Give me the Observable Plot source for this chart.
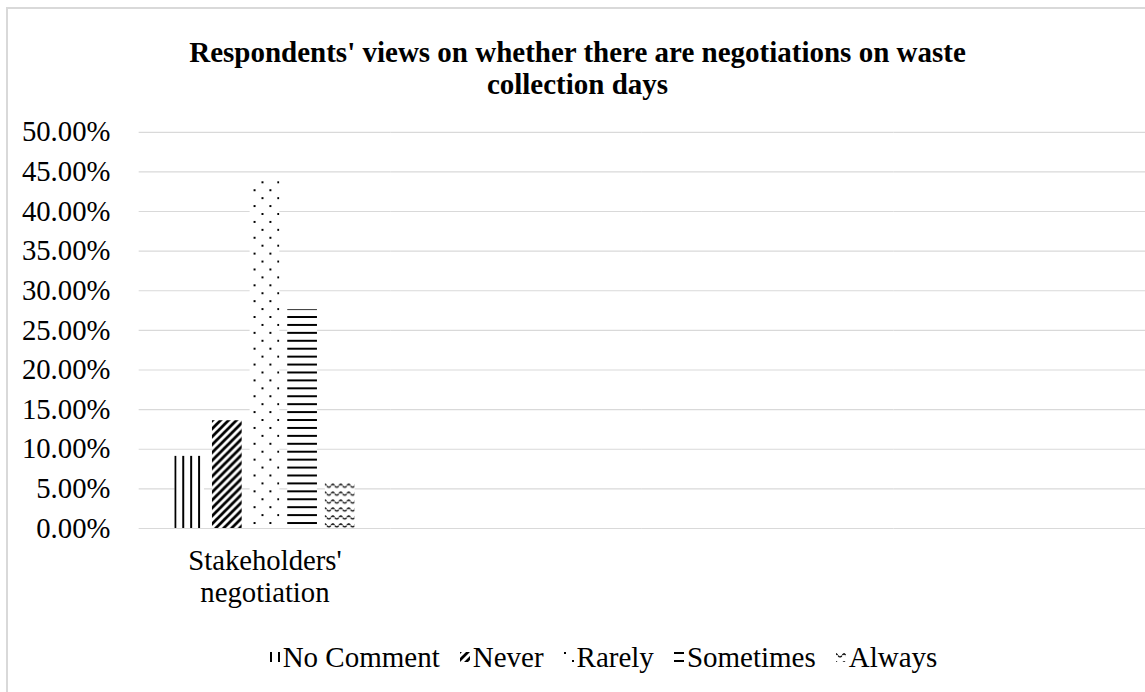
<!DOCTYPE html>
<html>
<head>
<meta charset="utf-8">
<script src="https://cdn.jsdelivr.net/npm/d3@7"></script>
<script src="https://cdn.jsdelivr.net/npm/@observablehq/plot@0.6"></script>
<style>
html, body { margin: 0; padding: 0; background: #fff; width: 1145px; height: 692px; overflow: hidden;
  font-family: "Liberation Serif", "DejaVu Serif", serif; color: #000; }
#frame { position: absolute; left: 6px; top: 7px; width: 1170px; height: 720px; border: 2px solid #d9d9d9; box-sizing: border-box; }
#title { position: absolute; left: 0; top: 36px; width: 1155px; text-align: center; font-weight: bold; font-size: 29px; line-height: 32px;
  font-family: "Liberation Serif", "DejaVu Serif", serif; }
#chart { position: absolute; left: 0; top: 110px; }
#chart svg, #chart svg text { font-family: "Liberation Serif", "DejaVu Serif", serif !important; }
#legend { position: absolute; left: 0; top: 641px; width: 1207px; display: flex; justify-content: center; gap: 20px;
  font-size: 29px; line-height: 32px; white-space: nowrap; font-family: "Liberation Serif", "DejaVu Serif", serif; }
.item { display: flex; align-items: center; }
.item svg { margin-right: 3px; }
</style>
</head>
<body>
<svg width="0" height="0" style="position:absolute">
  <defs>
    <pattern id="p-vert" patternUnits="userSpaceOnUse" width="8" height="8">
      <rect width="8" height="8" fill="#fff"/><rect x="0" y="0" width="2" height="8" fill="#000"/>
    </pattern>
    <pattern id="p-diag" patternUnits="userSpaceOnUse" width="8" height="8">
      <rect width="8" height="8" fill="#fff"/>
      <path d="M-2,10 L10,-2 M-6,6 L6,-6 M2,14 L14,2" stroke="#000" stroke-width="2.8"/>
    </pattern>
    <pattern id="p-dots" patternUnits="userSpaceOnUse" width="16" height="16">
      <rect width="16" height="16" fill="#fff"/><rect x="0" y="0" width="2" height="2" fill="#000"/><rect x="8" y="8" width="2" height="2" fill="#000"/>
    </pattern>
    <pattern id="p-horiz" patternUnits="userSpaceOnUse" width="8" height="8">
      <rect width="8" height="8" fill="#fff"/><rect x="0" y="0" width="8" height="2" fill="#000"/>
    </pattern>
    <pattern id="p-wave" patternUnits="userSpaceOnUse" width="8" height="8">
      <rect width="8" height="8" fill="#fff"/>
      <path d="M0,1.5 L4,5.5 L8,1.5" stroke="#000" stroke-width="1.3" fill="none" stroke-dasharray="2.2,0.8"/>
    </pattern>
  </defs>
</svg>
<div id="frame"></div>
<div id="title">Respondents' views on whether there are negotiations on waste<br>collection days</div>
<div id="chart"></div>
<div id="legend"></div>
<script>
// ---- data ----
const categories = ["Stakeholders' negotiation", "cat2", "cat3", "cat4"];
const categoryLabels = ["Stakeholders'\nnegotiation", "", "", ""];
const series = ["No Comment", "Never", "Rarely", "Sometimes", "Always"];
const values = [0.091, 0.136, 0.440, 0.276, 0.057];
const yTicks = [0, 0.05, 0.10, 0.15, 0.20, 0.25, 0.30, 0.35, 0.40, 0.45, 0.50];

// ---- styles ----
const fills = ["url(#p-vert)", "url(#p-diag)", "url(#p-dots)", "url(#p-horiz)", "url(#p-wave)"];

const rows = series.map((s, i) => ({category: categories[0], series: s, value: values[i]}));
const gridRows = categories.flatMap(c => yTicks.map(t => ({category: c, tick: t})));

const plot = Plot.plot({
  width: 1156,
  height: 512,
  marginTop: 22,
  marginBottom: 90,
  marginLeft: 140,
  marginRight: 0,
  style: {fontFamily: "'Liberation Serif', 'DejaVu Serif', serif", fontSize: "29px", color: "#000", background: "transparent", overflow: "visible"},
  fx: {domain: categories, padding: 0},
  x: {domain: series, paddingInner: 0.2, paddingOuter: 0.9, axis: null},
  y: {domain: [0, 0.5]},
  color: {domain: series, range: fills},
  marks: [
    Plot.ruleY(gridRows, {fx: "category", y: "tick", stroke: "#d9d9d9", strokeWidth: 1.2}),
    Plot.axisY(yTicks, {tickFormat: d3.format(".2%"), tickSize: 0, tickPadding: 29, label: null, fontSize: 29}),
    Plot.axisFx({anchor: "bottom", label: null, tickSize: 0, tickPadding: 19, fontSize: 29, lineHeight: 1.11,
      tickFormat: d => categoryLabels[categories.indexOf(d)]}),
    Plot.barY(rows, {fx: "category", x: "series", y: "value", fill: "series"})
  ]
});
document.getElementById("chart").appendChild(plot);

const color = plot.scale("color");
const legend = document.getElementById("legend");
series.forEach(s => {
  const item = document.createElement("div");
  item.className = "item";
  item.innerHTML = `<svg width="10" height="10"><rect width="10" height="10" fill="${color.apply(s)}"/></svg><span></span>`;
  item.querySelector("span").textContent = s;
  legend.appendChild(item);
});
</script>
</body>
</html>
